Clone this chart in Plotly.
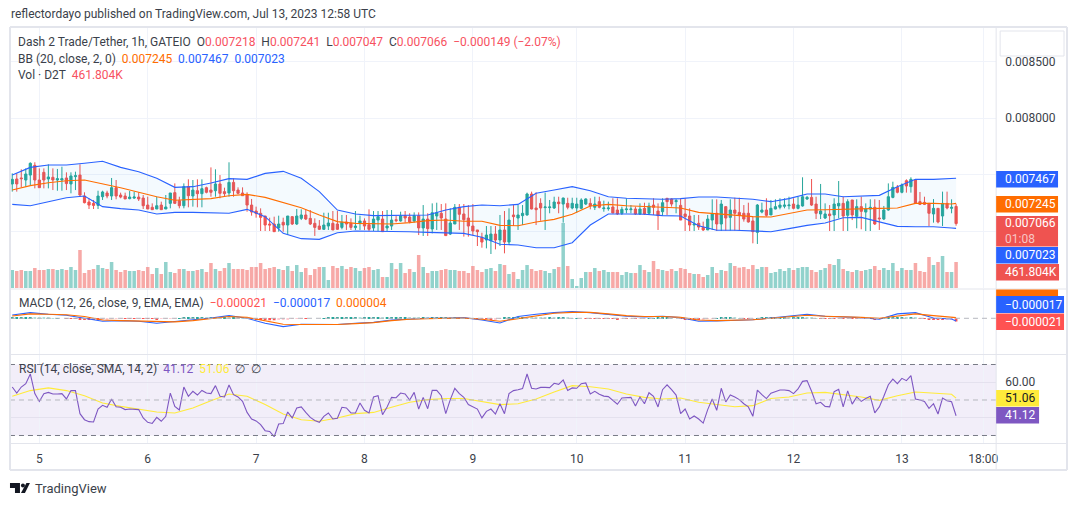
import plotly.graph_objects as go

W, H = 1080, 506
FONT = "Roboto"
TXT = "#3b3f4a"
UP, DOWN = "#26a69a", "#ef5350"
BLUE, ORANGE, RED, PURPLE, YELLOW = "#2962ff", "#ff6d00", "#ef5350", "#7e57c2", "#ffeb3b"
GRID, FRAME = "#f0f3fa", "#e3e5ec"

day_ticks = [6, 30, 54, 78, 102, 125, 149, 173, 197, 215]
day_labels = ["5", "6", "7", "8", "9", "10", "11", "12", "13", "18:00"]

# prices in millionths of USDT
opens = [7417,7461,7470,7452,7496,7582,7452,7520,7461,7476,7452,7452,7470,7417,7482,7496,7310,7257,7245,7227,
7304,7337,7310,7384,7319,7310,7287,7292,7301,7292,7230,7210,7195,7230,7195,7245,7340,7269,7224,7393,
7310,7357,7331,7384,7363,7357,7417,7349,7337,7431,7363,7337,7319,7230,7177,7157,7133,7062,7062,7027,
7077,7053,7127,7062,7112,7142,7112,7068,7044,7015,7044,7068,7062,7032,7080,7068,7030,7068,7089,7056,
7027,7097,7106,7027,7044,7100,7089,7136,7124,7089,7136,7027,7106,7018,7133,7157,7106,6973,7062,7210,
7151,7115,7044,7009,6944,6920,6914,6973,6920,7009,6902,7142,7115,7136,7142,7328,7204,7245,7207,7207,
7204,7257,7239,7245,7204,7204,7201,7239,7245,7210,7260,7198,7198,7213,7186,7157,7189,7189,7195,7151,
7201,7157,7230,7177,7171,7290,7284,7260,7227,7151,7133,7053,7068,7032,7009,7097,7157,7062,7216,7121,
7186,7165,7157,7157,7089,6988,7168,7186,7142,7195,7210,7219,7224,7239,7201,7222,7284,7298,7239,7151,
7115,7151,7142,7222,7245,7139,7275,7130,7216,7168,7195,7210,7115,7106,7186,7298,7387,7343,7446,7393,
7452,7260,7254,7245,7151,7201,7133,7245,7201,7218]
highs = [7511,7511,7547,7555,7609,7609,7555,7555,7591,7555,7550,7570,7520,7520,7526,7591,7343,7290,7275,7357,
7357,7357,7470,7452,7340,7340,7354,7349,7343,7319,7304,7245,7304,7260,7319,7337,7422,7304,7422,7458,
7452,7458,7458,7393,7564,7547,7496,7384,7609,7467,7387,7387,7343,7284,7216,7201,7133,7118,7127,7136,
7118,7133,7133,7195,7192,7192,7186,7112,7097,7162,7162,7177,7177,7142,7142,7112,7177,7136,7112,7192,
7177,7177,7177,7186,7186,7139,7171,7177,7157,7165,7165,7230,7157,7245,7251,7239,7245,7201,7239,7239,
7239,7230,7239,7009,6985,7044,7044,7044,7142,7177,7201,7230,7230,7230,7340,7349,7343,7290,7340,7275,
7304,7304,7296,7295,7295,7295,7290,7290,7290,7304,7304,7269,7260,7290,7290,7216,7290,7230,7216,7245,
7251,7251,7290,7245,7290,7290,7290,7284,7290,7290,7201,7142,7142,7083,7142,7281,7281,7275,7216,7281,
7295,7295,7230,7251,7127,7239,7251,7290,7275,7281,7290,7290,7304,7290,7304,7476,7310,7461,7304,7417,
7245,7230,7290,7443,7304,7281,7275,7281,7304,7245,7281,7281,7275,7222,7422,7437,7408,7422,7458,7476,
7452,7346,7304,7245,7283,7201,7349,7349,7281,7241]
lows = [7349,7349,7387,7393,7408,7378,7384,7378,7378,7363,7357,7357,7363,7334,7363,7304,7245,7195,7195,7195,
7275,7290,7275,7281,7290,7284,7281,7284,7266,7195,7195,7186,7195,7186,7195,7201,7239,7201,7201,7210,
7216,7210,7210,7334,7304,7304,7290,7304,7304,7304,7325,7313,7171,7136,7118,7000,7000,7000,6994,6994,
6994,6964,7053,7053,7097,7097,7053,6956,7009,7009,7009,7009,7009,7015,7009,7009,7009,7009,7009,7000,
7000,7000,6994,7000,7009,7077,7083,7074,7068,7074,6964,6956,6956,6979,7009,7009,6956,6964,7062,7009,
6950,6950,6964,6867,6852,6846,6796,6837,6867,6802,6876,7044,7009,7053,7136,7192,7053,7091,7009,7157,
7195,7157,7074,7192,7192,7162,7192,7230,7192,7186,7201,7171,7180,7157,7142,7142,7157,7157,7142,7142,
7142,7142,7142,7009,7136,7142,7216,7157,7097,7000,7000,7000,7009,7000,7009,7009,7000,7000,7003,7003,
7003,7003,7083,7074,6891,6885,7157,7127,7142,7192,7192,7201,7192,7192,7192,7216,7275,7222,7106,7106,
7106,7000,7000,7112,7000,7000,7097,7024,7015,7000,7000,7053,7009,7097,7180,7290,7334,7334,7340,7340,
7239,7230,7230,7044,7074,7068,7044,7192,7157,7047]
closes = [7458,7417,7464,7505,7600,7452,7384,7452,7479,7452,7464,7464,7420,7488,7490,7319,7251,7230,7227,7310,
7346,7310,7384,7310,7301,7284,7301,7301,7284,7224,7195,7189,7224,7189,7213,7337,7245,7224,7393,7313,
7363,7331,7375,7343,7343,7417,7334,7331,7431,7357,7334,7313,7230,7168,7154,7121,7053,7053,6994,7062,
7053,7133,7062,7133,7142,7106,7062,7032,7015,7053,7071,7009,7015,7077,7062,7032,7044,7089,7044,7015,
7106,7127,6994,7044,7097,7092,7133,7115,7080,7136,7027,7106,7021,7162,7162,7115,6959,7071,7210,7148,
7100,7044,7000,6994,6902,6964,6973,6920,7009,6902,7097,7127,7142,7157,7328,7195,7189,7204,7213,7213,
7257,7242,7292,7210,7245,7239,7275,7284,7222,7239,7210,7204,7204,7160,7151,7192,7195,7195,7151,7195,
7151,7222,7210,7136,7251,7260,7239,7269,7097,7127,7053,7062,7035,7009,7106,7151,7062,7239,7115,7186,
7157,7142,7106,7080,6994,7230,7186,7139,7201,7216,7230,7230,7230,7201,7230,7304,7298,7230,7157,7177,
7151,7136,7239,7245,7133,7260,7142,7216,7174,7195,7210,7062,7109,7186,7304,7387,7343,7408,7399,7458,
7245,7236,7236,7157,7201,7080,7245,7204,7210,7066]

# volume in thousands of D2T
volumes = [320,302,320,302,302,355,320,320,337,337,320,337,320,373,320,675,266,320,337,408,
355,337,462,320,284,320,302,302,320,302,373,249,355,249,462,284,266,337,337,302,
302,320,337,284,444,337,302,355,444,337,337,337,320,373,373,444,337,355,373,337,
320,391,302,408,284,355,231,337,373,373,142,391,355,391,337,373,355,302,355,373,
320,337,195,195,444,337,444,266,337,284,586,373,266,302,302,320,337,320,320,302,
302,266,391,320,284,337,355,302,426,408,249,284,160,320,408,337,302,320,302,266,
337,373,1154,391,160,36,178,284,284,355,302,320,284,284,284,231,284,266,266,408,
320,284,480,337,320,302,337,302,355,337,266,249,249,195,231,373,266,320,302,444,
391,361,373,337,408,337,373,373,266,284,337,302,355,320,355,373,373,320,284,320,
355,426,408,515,337,302,284,320,302,320,337,391,320,355,320,444,302,355,320,320,
444,302,284,551,408,462,568,284,284,461.804]

# indicators read every fourth bar, plus the last bar
sample_bars = list(range(0, 209, 4)) + [209]
bb_upper = [7496,7564,7585,7585,7600,7618,7564,7526,7467,7387,7393,7425,7464,7458,7511,7529,7467,7349,7186,7151,
7136,7136,7136,7142,7186,7216,7230,7224,7236,7334,7363,7393,7357,7304,7290,7287,7281,7287,7301,7301,
7290,7281,7260,7287,7328,7328,7304,7307,7316,7393,7458,7458,7461,7467]
bb_basis = [7363,7402,7428,7446,7452,7420,7384,7343,7304,7272,7278,7287,7313,7325,7298,7254,7207,7142,7083,7068,
7062,7062,7074,7092,7097,7086,7086,7050,7047,7080,7103,7148,7222,7236,7224,7216,7210,7204,7165,7151,
7139,7127,7124,7157,7186,7189,7195,7201,7201,7204,7245,7245,7239,7245]
bb_lower = [7236,7224,7260,7295,7310,7216,7198,7186,7151,7165,7165,7160,7157,7192,7127,6979,6932,6926,6985,7000,
7000,6994,6994,6988,6985,6979,6944,6882,6876,6852,6852,6896,7053,7151,7151,7148,7136,7133,7047,7006,
7006,6997,6994,7021,7050,7071,7118,7121,7080,7041,7038,7038,7027,7023]
macd_line = [21,36,26,19,0,-19,-15,-19,-32,-21,-11,2,17,0,-32,-53,-38,-40,-40,-32,
-26,-11,-4,0,0,4,-11,-30,11,26,36,43,36,23,13,9,13,4,-19,-17,
-11,-9,2,15,26,13,9,4,-6,28,36,2,-4,-17]
macd_signal = [15,28,26,23,11,-11,-15,-17,-23,-23,-15,-2,11,6,-15,-38,-40,-40,-40,-34,
-28,-15,-6,-2,0,2,-6,-19,-2,17,32,38,38,28,17,11,11,6,-11,-15,
-11,-9,0,11,19,13,11,6,0,15,28,17,9,4]
rsi_ma = [52.1,55.3,56.8,55.3,52.4,48.3,46.4,44.6,43.2,42.7,45.5,49.6,53.4,52.1,47.4,42.1,38.9,38.0,39.9,42.3,
43.0,45.9,48.7,50.2,50.8,50.8,49.2,47.4,47.9,50.6,54.5,58.1,57.5,56.2,53.4,51.5,50.6,51.1,48.7,47.4,
46.2,46.8,50.8,51.7,53.9,54.3,53.0,51.7,49.8,52.4,54.5,53.8,53.2,51.06]

macd_hist = [2,3,4,5,6,5,4,3, 2,1,1,0,-1,-1,-1, -6,-8,-9,-10,-10,-8,
-6,-4,-3,-2,-2,-2,-3,-2,-2,-3,-4,-5,-4,-3, -2,-1,1,3,4,5,6,6,5,6, 5,4,4,3,3,2,
1,-1,-4,-6,-8,-10,-12,-12,-9,-8, -6,-3,-2,-1,-1,0,0,0,1,
2,2,2,3,3,3,4,3,3,3,3,5,3,3,3,3, 5,6,5,4,3,3,2,2,3,3,3,2,2,1,1,
-2,-2,-3,-4,-4,-7,-5, -3,2,4,5,6,8, 7,6,5,4,3,3,2,2,5,2,1,1, 0,-1,
-2,-2,-3,-3,-4,-4,-5,-3,-3,-2,-3,-2,-1, 1,1,2,2,3,1,0, -3,-5,-6,-7,-7,-5,-3,-2,
1,2,3,3,2,1,-1,-3,-2, 1,2,2,3,3,3,4,3,3,4,4,3,2,1,
-1,-2,-3,-3,-2,-3,-2,-3,-3,-2,-2,-4,-5,-3, 1,4,6,7,8,7,8,5, -2,-4,-6,-7,-8,-10,-9,-8,-21]

rsi = [57.3,53.9,57.3,59.2,64.65,53.6,49.2,53.6,54.3,53.4,53.4,53.6,50.6,55.3,55.3,42.3,38.9,37.8,37.6,44.9,
47.0,45.9,50.6,46.2,45.9,44.6,44.9,44.9,44.6,39.9,37.4,36.8,40.2,38.0,40.8,53.9,46.4,44.4,57.3,52.1,
54.9,52.8,55.4,53.9,53.6,58.1,52.1,51.7,58.5,53.0,51.7,49.2,43.0,39.3,38.2,36.1,32.7,32.3,29.3,36.5,
36.7,43.2,39.9,45.5,46.1,43.0,40.2,38.5,37.4,40.8,42.7,39.3,39.7,45.9,45.5,42.7,42.7,48.3,44.2,42.7,
51.7,52.4,41.7,46.1,51.5,51.3,53.9,53.4,50.0,54.3,44.9,51.5,45.1,55.4,55.4,52.4,42.3,50.2,56.6,53.6,
51.5,47.4,46.1,44.9,39.9,43.6,44.9,42.1,47.9,42.3,53.6,55.3,55.8,56.4,64.65,56.6,56.2,57.1,57.1,57.0,
59.4,58.8,61.3,55.4,56.8,56.6,59.2,59.6,53.4,54.9,53.2,52.2,51.9,49.6,47.6,51.1,51.3,51.5,46.6,51.7,
47.9,54.1,52.1,46.1,55.8,58.5,55.8,52.8,42.3,44.9,39.3,41.0,39.3,37.0,44.6,50.6,44.2,56.6,48.9,52.8,
51.7,50.2,47.9,46.1,40.8,55.6,53.0,50.8,53.8,54.5,55.6,55.6,55.3,53.6,56.2,60.5,60.9,54.9,47.9,48.7,
46.4,46.1,54.7,56.0,46.1,55.1,47.7,51.7,49.2,50.8,52.1,42.7,46.1,52.1,58.6,61.8,59.2,62.2,60.9,63.7,
50.6,50.0,49.2,45.3,47.9,42.1,51.1,49.6,49.0,41.12]

bars = list(range(len(closes)))
px = lambda x: x / W
py = lambda y: 1 - y / H
M = 1e-6
prices = lambda seq: [v * M for v in seq]

def dir_color(i, alpha=None):
    rgb = "38,166,154" if closes[i] >= opens[i] else "239,83,80"
    return f"rgba({rgb},{alpha})"

hist_colors = []
for i, v in enumerate(macd_hist):
    prev = macd_hist[i - 1] if i else v
    if v >= 0:
        hist_colors.append("#26a69a" if v >= prev else "#b2dfdb")
    else:
        hist_colors.append("#ff5252" if v <= prev else "#ffcdd2")

LW = 1.1
fig = go.Figure()
fig.add_bar(x=bars, y=[v * 1000 for v in volumes], yaxis="y", xaxis="x", width=0.78,
            marker=dict(color=[dir_color(i, 0.5) for i in bars], line_width=0))
fig.add_scatter(x=sample_bars, y=prices(bb_upper), yaxis="y2", mode="lines", line=dict(color=BLUE, width=LW))
fig.add_scatter(x=sample_bars, y=prices(bb_lower), yaxis="y2", mode="lines", line=dict(color=BLUE, width=LW),
                fill="tonexty", fillcolor="rgba(33,150,243,0.05)")
fig.add_scatter(x=sample_bars, y=prices(bb_basis), yaxis="y2", mode="lines", line=dict(color=ORANGE, width=LW))
fig.add_candlestick(x=bars, open=prices(opens), high=prices(highs), low=prices(lows), close=prices(closes),
                    yaxis="y2", whiskerwidth=0,
                    increasing=dict(line=dict(color=UP, width=1), fillcolor=UP),
                    decreasing=dict(line=dict(color=DOWN, width=1), fillcolor=DOWN))
fig.add_bar(x=bars, y=prices(macd_hist), yaxis="y3", width=0.6, marker=dict(color=hist_colors, line_width=0))
fig.add_scatter(x=sample_bars, y=prices(macd_line), yaxis="y3", mode="lines", line=dict(color=BLUE, width=LW))
fig.add_scatter(x=sample_bars, y=prices(macd_signal), yaxis="y3", mode="lines", line=dict(color=ORANGE, width=LW))
fig.add_scatter(x=sample_bars, y=rsi_ma, yaxis="y4", mode="lines", line=dict(color=YELLOW, width=LW))
fig.add_scatter(x=bars, y=rsi, yaxis="y4", mode="lines", line=dict(color=PURPLE, width=1.1))

shapes = []
def line(x0, y0, x1, y1, color=FRAME, width=1, dash=None):
    shapes.append(dict(type="line", xref="paper", yref="paper", x0=px(x0), y0=py(y0), x1=px(x1), y1=py(y1),
                       line=dict(color=color, width=width, dash=dash), layer="above"))

# RSI band and reference levels
shapes.append(dict(type="rect", xref="paper", yref="y4", x0=px(10), x1=px(998), y0=30, y1=70,
                   fillcolor="rgba(126,87,194,0.1)", line_width=0, layer="below"))
for lvl, col in ((70, "#787b86"), (30, "#787b86"), (50, "#b5b7be")):
    shapes.append(dict(type="line", xref="paper", yref="y4", x0=px(10), x1=px(998), y0=lvl, y1=lvl,
                       line=dict(color=col, width=1, dash="5px,4px"), layer="above"))
shapes.append(dict(type="line", xref="paper", yref="y3", x0=px(10), x1=px(998), y0=0, y1=0,
                   line=dict(color="#b5b7be", width=1, dash="5px,4px"), layer="above"))
# frame and pane separators
line(10, 27, 1069, 27, width=2)
line(10, 470, 1069, 470, width=2)
line(10, 27, 10, 470, width=2)
line(1069, 27, 1069, 470, width=2)
line(998, 27, 998, 470)
line(10, 289, 1069, 289)
line(10, 354.5, 1069, 354.5)
line(10, 443.5, 1069, 443.5)
# top-right empty button
shapes.append(dict(type="rect", xref="paper", yref="paper", x0=px(1002), x1=px(1066), y0=py(56), y1=py(31),
                   fillcolor="white", line=dict(color=FRAME, width=1), layer="above"))
# clipped MACD signal tag
shapes.append(dict(type="rect", xref="paper", yref="paper", x0=px(998), x1=px(1060), y0=py(296), y1=py(289.5),
                   fillcolor=ORANGE, line_width=0, layer="above"))
# logo
def pth(pts):
    return "M" + " L".join(f"{px(a):.5f},{py(b):.5f}" for a, b in pts) + " Z"
for p in ([(10, 483), (20, 483), (20, 493), (15, 493), (15, 488), (10, 488)],
          [(26.5, 483), (30, 483), (25, 493), (21, 493)]):
    shapes.append(dict(type="path", xref="paper", yref="paper", path=pth(p), fillcolor="#131722", line_width=0))
shapes.append(dict(type="circle", xref="paper", yref="paper", x0=px(21), x1=px(25), y0=py(487.5), y1=py(483.5),
                   fillcolor="#131722", line_width=0))

ann = []
def text(x, y, s, size=12, color=TXT, anchor="left"):
    ann.append(dict(xref="paper", yref="paper", x=px(x), y=py(y), text=s, showarrow=False, xanchor=anchor,
                    yanchor="middle", font=dict(family=FONT, size=size, color=color)))
def c(s, col):
    return f'<span style="color:{col}">{s}</span>'

text(9, 14, "reflectordayo published on TradingView.com, Jul 13, 2023 12:58 UTC")
R = "#f7525f"
text(16, 42, "Dash 2 Trade/Tether, 1h, GATEIO  O" + c("0.007218", R) + "  H" + c("0.007241", R) + "  L" + c("0.007047", R)
     + "  C" + c("0.007066", R) + "  " + c("−0.000149 (−2.07%)", R))
text(16, 58.5, "BB (20, close, 2, 0)  " + c("0.007245", ORANGE) + "  " + c("0.007467", BLUE) + "  " + c("0.007023", BLUE))
text(16, 75, "Vol · D2T  " + c("461.804K", R))
text(17, 303, "MACD (12, 26, close, 9, EMA, EMA)  " + c("−0.000021", "#ff5252") + "  " + c("−0.000017", BLUE) + "  " + c("0.000004", ORANGE))
text(17, 369, "RSI (14, close, SMA, 14, 2)  " + c("41.12", PURPLE) + "  " + c("51.06", YELLOW) + "  ∅  ∅")
text(33, 488, "TradingView", size=13)

def tag(top, bottom, s, bg, right=1060, fg="white"):
    shapes.append(dict(type="rect", xref="paper", yref="paper", x0=px(998), x1=px(right), y0=py(bottom), y1=py(top),
                       fillcolor=bg, line_width=0, layer="above"))
    ann.append(dict(xref="paper", yref="paper", x=px(1005), y=py((top + bottom) / 2), text=s, showarrow=False,
                    xanchor="left", yanchor="middle", align="left",
                    font=dict(family=FONT, size=12, color=fg)))
tag(171, 187.5, "0.007467", BLUE)
tag(196, 212.5, "0.007245", ORANGE)
tag(216, 246.5, "0.007066<br><span style='color:#f7c6c5'>01:08</span>", RED)
tag(247, 263.5, "0.007023", BLUE)
tag(264, 280.5, "461.804K", RED, right=1061)
tag(296, 313, "−0.000017", BLUE, right=1066)
tag(313.5, 330, "−0.000021", "#ff5252", right=1066)
tag(390, 406.5, "51.06", YELLOW, right=1041, fg="#131722")
tag(407, 423.5, "41.12", PURPLE, right=1041)

def dom(top, bottom):
    return [1 - bottom / H, 1 - top / H]

PPX = 112800.0
axis_common = dict(showline=False, zeroline=False, ticks="", anchor="x", side="right",
                   tickfont=dict(family=FONT, size=12, color=TXT), ticklabelstandoff=8)
fig.update_layout(
    width=W, height=H, margin=dict(l=0, r=0, t=0, b=0), paper_bgcolor="white", plot_bgcolor="white",
    showlegend=False, barmode="overlay", hovermode=False, shapes=shapes, annotations=ann,
    xaxis=dict(domain=[px(10), px(998)], range=[-0.5, 215 + 13 / 4.526], anchor="y4", rangeslider=dict(visible=False),
               tickvals=day_ticks, ticktext=day_labels, tickangle=0, showgrid=True, gridcolor=GRID, gridwidth=1,
               zeroline=False, showline=False, ticks="", ticklabelstandoff=7,
               tickfont=dict(family=FONT, size=12, color=TXT)),
    yaxis=dict(domain=dom(27, 288), range=[0, 4636000], visible=False, anchor="x"),
    yaxis2=dict(overlaying="y", range=[0.0070 - 57 / PPX, 0.0070 + 204 / PPX],
                tickvals=[0.0085, 0.0080, 0.0075, 0.0070], ticktext=["0.008500", "0.008000", "", ""],
                showgrid=True, gridcolor=GRID, **axis_common),
    yaxis3=dict(domain=dom(289, 354), range=[-228e-6, 187e-6], showgrid=False, showticklabels=False,
                showline=False, zeroline=False, anchor="x"),
    yaxis4=dict(domain=dom(355, 443), range=[25.77, 75.35], tickvals=[60, 40], ticktext=["60.00", ""],
                showgrid=True, gridcolor="#e4e1ee", **axis_common),
)
fig.write_html("out.html", config={"displayModeBar": False},
               post_script="document.body.style.margin='0';document.body.style.overflow='hidden';")
